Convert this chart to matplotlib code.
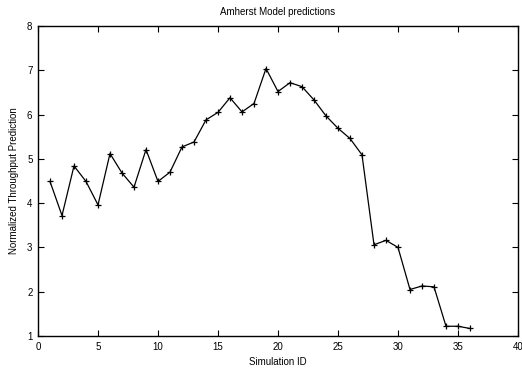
import numpy as np
import matplotlib.pyplot as plt

plt.rcParams['font.family'] = ['Liberation Sans', 'DejaVu Sans']

# Предсказанная пропускная способность по каждой симуляции
sim_id = np.arange(1, 37)
throughput = [4.49, 3.72, 4.84, 4.49, 3.96, 5.12, 4.68, 4.36, 5.21, 4.49,
              4.70, 5.27, 5.38, 5.88, 6.05, 6.38, 6.06, 6.25, 7.04, 6.52,
              6.72, 6.63, 6.33, 5.97, 5.69, 5.46, 5.09, 3.06, 3.16, 3.00,
              2.05, 2.13, 2.11, 1.22, 1.22, 1.17]

fig = plt.figure(figsize=(5.22, 3.75), dpi=100)
ax = fig.add_axes([38 / 522, 1 - 336 / 375, 480 / 522, 310 / 375])
ax.plot(sim_id, throughput, color='black', linewidth=0.9,
        marker='+', markersize=5, markeredgewidth=0.9)

ax.set_xlim(0, 40)
ax.set_ylim(1, 8)
ax.set_xticks(range(0, 41, 5))
ax.set_yticks(range(1, 9))
ax.tick_params(direction='in', top=True, right=True, length=4,
               labelsize=7, width=0.8, pad=4)
for s in ax.spines.values():
    s.set_linewidth(1.0)

ax.set_xlabel('Simulation ID', fontsize=7, labelpad=4)
ax.set_ylabel('Normalized Throughput Prediction', fontsize=7, labelpad=6)
ax.set_title('Amherst Model predictions', fontsize=7, pad=8)

fig.savefig('out.png', dpi=100)
